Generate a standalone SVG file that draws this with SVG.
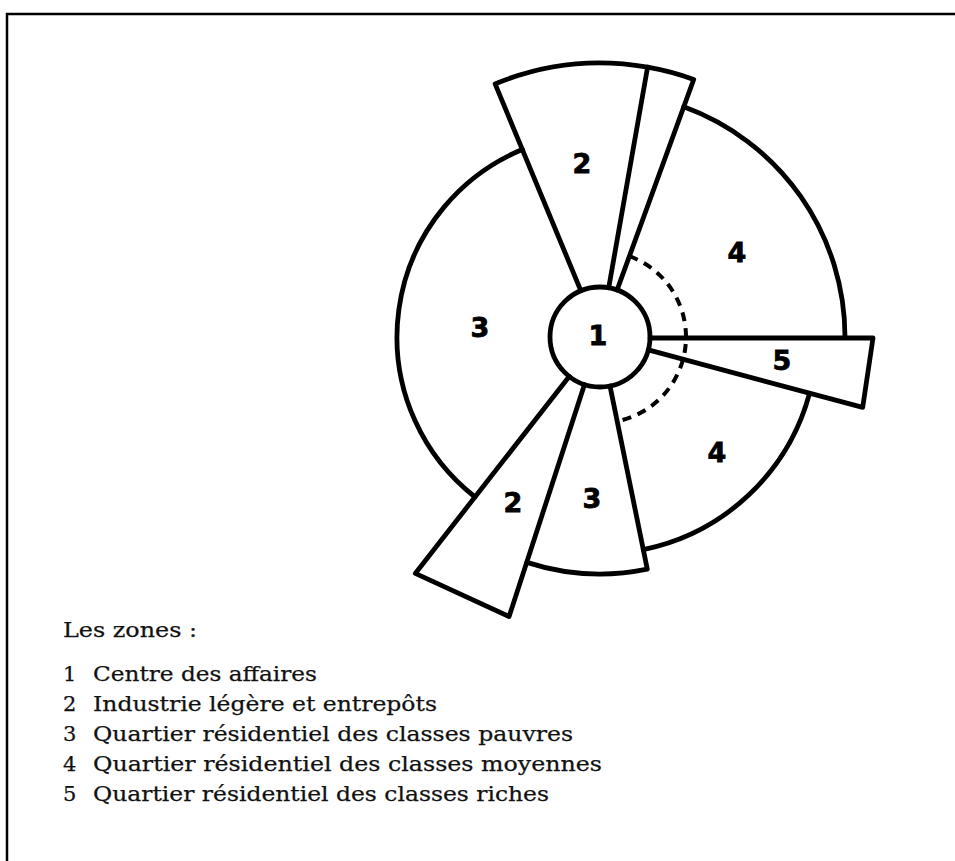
<svg xmlns="http://www.w3.org/2000/svg" width="955" height="861" viewBox="0 0 955 861">
  <style>
    .ln { fill: none; stroke: #000; stroke-width: 4.8; stroke-linejoin: round; stroke-linecap: round; }
    .dash { fill: none; stroke: #000; stroke-width: 4; stroke-dasharray: 9 7; }
    .num { font-family: "DejaVu Sans", "Liberation Sans", sans-serif; font-weight: bold; font-size: 27px; text-anchor: middle; fill: #000; stroke: #000; stroke-width: 0.8; }
    .leg { font-family: "DejaVu Serif", "Liberation Serif", serif; font-size: 21px; fill: #111; stroke: #111; stroke-width: 0.25; }
  </style>
  <rect x="0" y="0" width="955" height="861" fill="#fff"/>
  <path d="M7,861 V14 H955" fill="none" stroke="#000" stroke-width="2.5"/>

  <g id="zone1-centre">
    <circle class="ln" cx="600" cy="337" r="50"/>
    <text class="num" x="598" y="345">1</text>
  </g>

  <g id="zone2-top">
    <path class="ln" d="M580.9,290.8 L495.1,83.9 A274,274 0 0 1 647.6,67.2 L608.7,287.8"/>
    <text class="num" x="582" y="173">2</text>
  </g>

  <g id="thin-wedge-top">
    <path class="ln" d="M647.6,67.2 A274,274 0 0 1 693.7,79.5 L617.1,290.0"/>
  </g>

  <g id="zone3-left">
    <path class="ln" d="M522.3,149.5 A203,203 0 0 0 475.0,497.0"/>
    <text class="num" x="480" y="337">3</text>
  </g>

  <g id="zone4-upper">
    <path class="ln" d="M683.8,106.8 A245,245 0 0 1 845,337"/>
    <text class="num" x="737" y="262">4</text>
  </g>

  <g id="zone5">
    <path class="ln" d="M650,338 L873,338 L862.7,407.4 L648.3,349.9"/>
    <text class="num" x="782" y="370">5</text>
  </g>

  <g id="zone4-lower">
    <path class="ln" d="M809.6,393.2 A217,217 0 0 1 643.3,549.6"/>
    <text class="num" x="717" y="462">4</text>
  </g>

  <g id="zone3-bottom">
    <path class="ln" d="M610.0,386.0 L647.3,569.2 A237,237 0 0 1 526.8,562.4"/>
    <text class="num" x="592" y="508">3</text>
  </g>

  <g id="zone2-bottom">
    <path class="ln" d="M584.5,384.6 L509.1,616.6 L415.3,573.4 L569.2,376.4"/>
    <text class="num" x="513" y="512">2</text>
  </g>

  <g id="limit-dashed">
    <path class="dash" d="M629.4,256.2 A86,86 0 0 1 617.1,421.3"/>
  </g>

  <g id="legend">
    <text class="leg" x="63" y="637" textLength="134" lengthAdjust="spacingAndGlyphs">Les zones :</text>
    <text class="leg" x="63" y="681">1</text>
    <text class="leg" x="93" y="681" textLength="224" lengthAdjust="spacingAndGlyphs">Centre des affaires</text>
    <text class="leg" x="63" y="711">2</text>
    <text class="leg" x="93" y="711" textLength="344" lengthAdjust="spacingAndGlyphs">Industrie légère et entrepôts</text>
    <text class="leg" x="63" y="741">3</text>
    <text class="leg" x="93" y="741" textLength="480" lengthAdjust="spacingAndGlyphs">Quartier résidentiel des classes pauvres</text>
    <text class="leg" x="63" y="771">4</text>
    <text class="leg" x="93" y="771" textLength="509" lengthAdjust="spacingAndGlyphs">Quartier résidentiel des classes moyennes</text>
    <text class="leg" x="63" y="801">5</text>
    <text class="leg" x="93" y="801" textLength="456" lengthAdjust="spacingAndGlyphs">Quartier résidentiel des classes riches</text>
  </g>
</svg>
